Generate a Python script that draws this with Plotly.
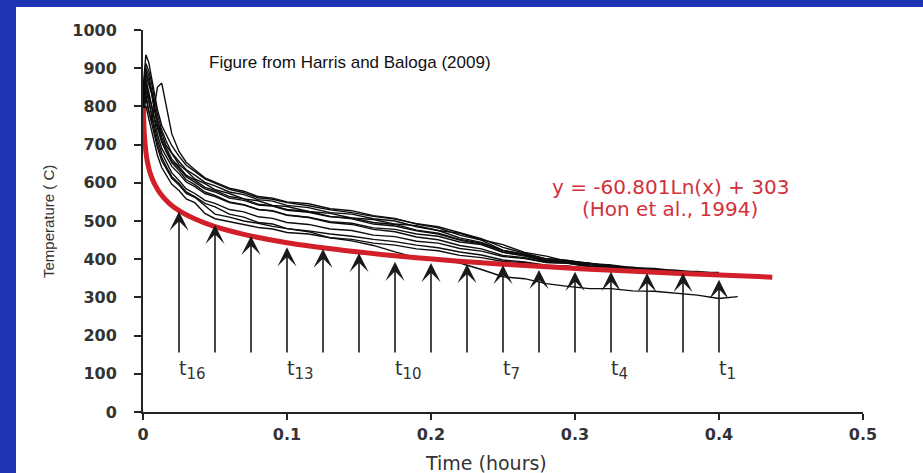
import plotly.graph_objects as go

# ---- data ----
TIME = [0, .002, .004, .006, .008, .010, .013, .016, .020, .025, .030, .036, .043, .050,
        .060, .070, .080, .090, .100, .115, .130, .145, .160, .175, .190, .205, .220, .235,
        .250, .265, .280, .295, .310, .325, .340, .355, .370, .385, .400, .413]
N = None
CURVE_A = [845, 935, 915, 872, 826, 792, 750, 726, 697, 670, 646, 630, 610, 599, 583, 574, 561, 557, 548, 540, 529, 522, 512, 505, 493, 485, 469, 454, 431, 416, 401, 397, 389, 385, 378, 376, 370, N, N, N]
CURVE_B = [800, 832, 788, 762, 802, 850, 861, 802, 728, 682, 654, 634, 613, 602, 586, 578, 564, 560, 550, 545, 532, 527, 514, 507, 492, 482, 463, 450, 423, 412, 398, 394, 385, 383, 376, 374, 368, 367, N, N]
CURVE_C = [790, 862, 818, 772, 733, 702, 666, 644, 616, 598, 576, 564, 546, 537, 518, 510, 496, 492, 480, 472, 456, 448, 436, 419, 404, 401, 390, 373, 354, 349, 336, 329, 323, 323, 317, 316, 311, 306, 297, 302]
CURVE_D = [810, 900, 882, 838, 802, 763, 732, 698, 677, 648, 632, 610, 598, 582, 572, 558, 553, 541, 538, 525, 520, 508, 504, 492, 488, 475, 468, 451, 438, 418, 408, 394, 390, 380, 379, 372, 371, 366, 365, N]
CURVE_E = [780, 872, 838, 802, 758, 727, 690, 670, 643, 624, 602, 590, 572, 564, 548, 542, 530, 527, 516, 510, 498, 494, 482, 478, 466, 460, 445, 438, 418, 410, 396, 392, 382, 380, 372, 371, 366, N, N, N]
CURVE_F = [770, 822, 788, 757, 718, 692, 658, 638, 612, 594, 572, 562, 540, 518, 510, 500, 494, 486, 480, 474, 466, 460, 452, 446, 437, 430, 419, 411, 398, 393, 384, 382, 376, 375, 369, 369, 363, 363, 358, N]
CURVE_G = [820, 882, 858, 832, 788, 752, 710, 684, 656, 638, 616, 602, 584, 576, 560, 554, 542, 539, 528, 523, 511, 508, 496, 491, 476, 468, 452, 442, 422, 412, 397, 393, 384, N, N, N, N, N, N, N]
CURVE_H = [760, 802, 768, 737, 698, 672, 640, 622, 596, 580, 558, 548, 520, 506, 498, 492, 483, 479, 470, 466, 456, 452, 442, 437, 427, 422, 410, 404, 394, 391, 383, 382, 376, 376, 370, 370, 364, 365, N, N]
CURVE_I = [830, 912, 893, 862, 816, 780, 738, 710, 678, 657, 634, 620, 601, 592, 576, 569, 556, 552, 541, 535, 522, 518, 506, 500, 485, 475, 456, 444, 423, 414, 401, 397, 387, 384, N, N, N, N, N, N]
CURVE_J = [800, 852, 828, 802, 768, 742, 706, 682, 653, 632, 608, 595, 576, 567, 550, 543, 530, 526, 515, 509, 496, 491, 478, 472, 458, 451, 436, 427, 410, 404, 392, 390, 381, 380, 373, 373, N, N, N, N]
CURVE_K = [790, 842, 813, 782, 743, 714, 678, 654, 626, 606, 584, 572, 554, 546, 530, 524, 511, 507, 496, 491, 479, 475, 463, 459, 447, 442, 428, 421, 407, 402, 391, 389, 380, 379, 372, 372, 366, 367, N, N]
CURVE_L = [815, 892, 868, 837, 793, 760, 718, 692, 662, 642, 620, 607, 588, 580, 564, 558, 544, 540, 530, 525, 512, 506, 492, 487, 474, 466, 450, 439, 418, 408, 394, 391, 382, 381, 374, 373, 367, 368, 363, N]
CURVES = [CURVE_A, CURVE_B, CURVE_C, CURVE_D, CURVE_E, CURVE_F,
          CURVE_G, CURVE_H, CURVE_I, CURVE_J, CURVE_K, CURVE_L]

FIT_TIME = [0.0003, 0.0005, 0.001, 0.002, 0.003, 0.005, 0.008, 0.012, 0.018, 0.025, 0.035,
            0.05, 0.07, 0.1, 0.14, 0.19, 0.25, 0.31, 0.37, 0.437]
FIT_TEMP = [796, 765, 723, 681, 656, 625, 597, 572, 547, 527, 507,
            485, 465, 443, 423, 404, 387, 374, 363, 353]

ARROW_TIME = [0.4, 0.375, 0.35, 0.325, 0.3, 0.275, 0.25, 0.225, 0.2, 0.175, 0.15, 0.125, 0.1, 0.075, 0.05, 0.025]
ARROW_TIP = [346, 364, 364, 367, 367, 372, 385, 387, 390, 393, 416, 427, 431, 461, 490, 525]
ARROW_BASE = 152
ARROW_LABELS = {1: "1", 4: "4", 7: "7", 10: "10", 13: "13", 16: "16"}

X_TICKS = [0, 0.1, 0.2, 0.3, 0.4, 0.5]
X_TICK_TEXT = ["0", "0.1", "0.2", "0.3", "0.4", "0.5"]
Y_TICKS = list(range(0, 1001, 100))

# ---- figure ----
fig = go.Figure()
for c in CURVES:
    fig.add_trace(go.Scatter(x=TIME, y=c, mode="lines", connectgaps=False,
                             line=dict(color="#0d0d0d", width=1.4), hoverinfo="skip",
                             showlegend=False))
fig.add_trace(go.Scatter(x=FIT_TIME, y=FIT_TEMP, mode="lines",
                         line=dict(color="#d2202a", width=5, shape="spline"),
                         showlegend=False))

annotations = []
for i, (t, tip) in enumerate(zip(ARROW_TIME, ARROW_TIP)):
    annotations.append(dict(x=t, y=tip, ax=t, ay=ARROW_BASE, xref="x", yref="y",
                            axref="x", ayref="y", text="", showarrow=True,
                            arrowhead=3, arrowsize=2.0, arrowwidth=1.6,
                            arrowcolor="#1a1a1a", standoff=0, startstandoff=0))
    k = i + 1
    if k in ARROW_LABELS:
        label = "t<sub><span style='font-size:15px'>" + ARROW_LABELS[k] + "</span></sub>"
        annotations.append(dict(x=t, y=110, xref="x", yref="y", text=label,
                                showarrow=False, xanchor="left", yanchor="middle",
                                xshift=-2, font=dict(family="DejaVu Sans", size=19, color="#333333")))

pixel_annotations = [
    dict(x=350, y=63, text="Figure from Harris and Baloga (2009)",
         font=dict(family="Liberation Sans", size=17, color="#111111")),
    dict(x=670, y=187, text="y = -60.801Ln(x) + 303",
         font=dict(family="DejaVu Sans", size=20, color="#d2303c")),
    dict(x=670, y=209, text="(Hon et al., 1994)",
         font=dict(family="DejaVu Sans", size=20, color="#d2303c")),
    dict(x=486, y=463, text="Time (hours)",
         font=dict(family="DejaVu Sans", size=19, color="#333333")),
    dict(x=48, y=222, text="Temperature ( C)", textangle=-90,
         font=dict(family="Liberation Sans", size=15, color="#333333")),
]

# convert pixel-placed annotations to paper coords
L, R, T, B = 143, 60, 30, 61
W, H = 923, 473
PW, PH = W - L - R, H - T - B
for a in pixel_annotations:
    a["x"] = (a["x"] - L) / PW
    a["y"] = (H - B - a["y"]) / PH
    a.update(xref="paper", yref="paper", xanchor="center", yanchor="middle", showarrow=False)
annotations += pixel_annotations

shapes = [dict(type="rect", xref="paper", yref="paper",
               x0=(16 - L) / PW, x1=(W + 5 - L) / PW,
               y0=(H - B - (H + 5)) / PH, y1=(H - B - 7) / PH,
               fillcolor="white", line=dict(width=0), layer="below")]

axis_font = dict(family="DejaVu Sans", size=16, color="#333333", weight="bold")
fig.update_layout(
    width=W, height=H, margin=dict(l=L, r=R, t=T, b=B),
    paper_bgcolor="#1E34B6", plot_bgcolor="rgba(0,0,0,0)",
    annotations=annotations, shapes=shapes, showlegend=False,
    xaxis=dict(range=[0, 0.5], tickvals=X_TICKS, ticktext=X_TICK_TEXT,
               showgrid=False, zeroline=False, showline=True, linecolor="#222222",
               linewidth=2, ticks="outside", ticklen=6, tickwidth=2, tickcolor="#222222",
               tickfont=axis_font, ticklabelstandoff=1),
    yaxis=dict(range=[0, 1000], tickvals=Y_TICKS, showgrid=False, zeroline=False,
               showline=True, linecolor="#222222", linewidth=2, ticks="outside",
               ticklen=7, tickwidth=2, tickcolor="#222222", tickfont=axis_font,
               ticklabelstandoff=14),
)
fig.write_html("out.html")
